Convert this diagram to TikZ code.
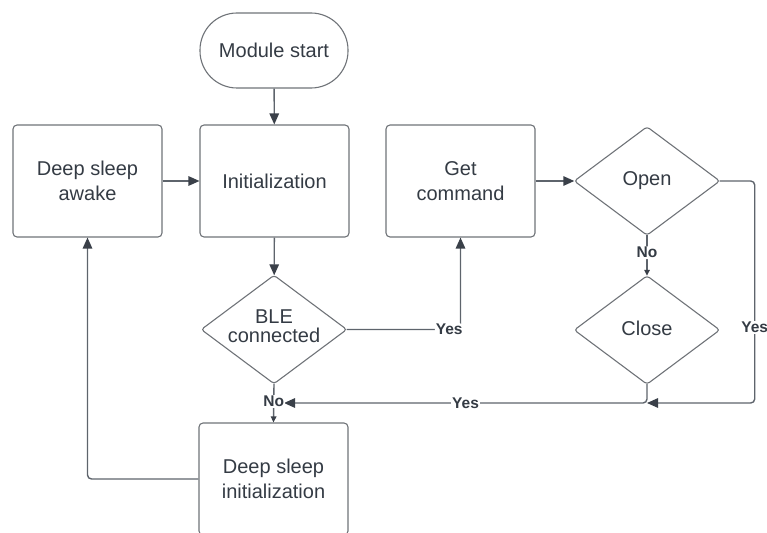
\documentclass[tikz,border=0pt]{standalone}
\usepackage{fontspec}
\setmainfont{Liberation Sans}
\usetikzlibrary{arrows.meta}
\definecolor{outline}{HTML}{6F7378}
\definecolor{wire}{HTML}{5E646C}
\definecolor{tipcol}{HTML}{3A4049}
\definecolor{txt}{HTML}{343B44}
\tikzset{
  x=1pt, y=-1pt,
  stepbox/.style={draw=outline, line width=1.1pt, rounded corners=4pt,
    minimum width=149pt, minimum height=112pt, inner sep=0pt,
    align=center, text=txt, font=\fontsize{20}{24.5}\selectfont},
  terminal/.style={stepbox, minimum height=75pt, minimum width=148pt, rounded corners=37pt},
  decision/.style={minimum width=145pt, minimum height=108pt, inner sep=0pt,
    align=center, text=txt, font=\fontsize{20}{24.5}\selectfont},
  diaoutline/.style={draw=outline, line width=1.1pt, rounded corners=3pt},
  flow/.style={draw=wire, line width=1.4pt, rounded corners=4pt,
    -{Triangle[length=11pt,width=9.5pt,color=tipcol]}},
  shortflow/.style={flow, -{Triangle[length=6pt,width=5.5pt,color=tipcol]}},
  tag/.style={fill=white, inner sep=1pt, text=txt, font=\fontsize{15.5}{17}\selectfont\bfseries},
}
\begin{document}
\begin{tikzpicture}
\useasboundingbox (0,0) rectangle (767,532);
\clip (0,0) rectangle (767,532);

% process steps
\node[terminal] (start) at (274,50.5) {Module start};
\node[stepbox] (awake) at (87.5,181) {Deep sleep\\awake};
\node[stepbox] (init) at (274.5,181) {Initialization};
\node[stepbox] (getcmd) at (460.5,181) {Get\\command};
\node[stepbox] (dsinit) at (273.5,479) {Deep sleep\\initialization};

% decisions
\node[decision] (ble) at (274,329.5) {\raisebox{7pt}{\shortstack{BLE\\[1pt]connected}}};
\node[decision] (open) at (647,181) {\raisebox{3pt}{Open}};
\node[decision] (close) at (647,330) {\raisebox{3pt}{Close}};
\foreach \d in {ble,open,close}
  \draw[diaoutline] (\d.north) -- (\d.east) -- (\d.south) -- (\d.west) -- cycle;

% junction points on the return line
\coordinate (merge) at (284,403);
\coordinate (joinpt) at (647,403);

% connectors
\draw[flow] (start) -- (init);
\draw[flow] (awake) -- (init);
\draw[flow] (init) -- (ble);
\draw[flow] (getcmd) -- (open);
\draw[flow] (ble.east) -| node[tag, pos=0.45] {Yes} (getcmd.south);
\draw[shortflow] (open.south) -- node[tag, pos=0.43] {No} (close.north);
\draw[flow] (open.east) -- ++(35,0) |- node[tag, pos=0.33] {Yes} (joinpt);
\draw[flow] (close.south) |- node[tag, pos=0.75] {Yes} (merge);
\draw[shortflow] (ble.south) -- node[tag, pos=0.46] {No} (dsinit.north);
\draw[flow] (dsinit.west) -| (awake.south);
\end{tikzpicture}
\end{document}
